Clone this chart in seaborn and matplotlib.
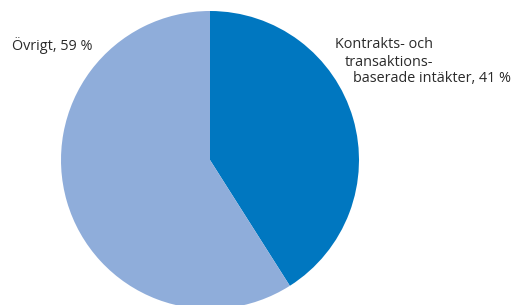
import matplotlib
matplotlib.use("Agg")
import matplotlib.pyplot as plt
import seaborn as sns

# data
labels = ["Kontrakts- och transaktionsbaserade intäkter", "Övrigt"]
shares = [41, 59]
colors = ["#0077c0", "#8fadda"]

sns.set_theme(style="white")
plt.rcParams["font.family"] = ["Open Sans", "DejaVu Sans"]

fig = plt.figure(figsize=(5.12, 3.05), dpi=100)
ax = fig.add_axes([0, 0, 1, 1])

ax.pie(shares, colors=colors, startangle=90, counterclock=False,
       radius=1.0, wedgeprops=dict(linewidth=0))

# put the pie where it sits in the original (centre ~210,160 px, r ~149 px)
r_px = 149
ax.set_xlim(-210 / r_px, (512 - 210) / r_px)
ax.set_ylim(-(305 - 160) / r_px, 160 / r_px)
ax.set_aspect("equal")
ax.axis("off")

txt = dict(fontsize=10.4, color="#2a2a2a", va="center", ha="left")
fig.text(12 / 512, 1 - 46 / 305, f"{labels[1]}, {shares[1]} %", **txt)
fig.text(335 / 512, 1 - 45 / 305, "Kontrakts- och", **txt)
fig.text(345 / 512, 1 - 62 / 305, "transaktions-", **txt)
fig.text(353 / 512, 1 - 79 / 305, f"baserade intäkter, {shares[0]} %", **txt)

fig.savefig("out.png", dpi=100)
